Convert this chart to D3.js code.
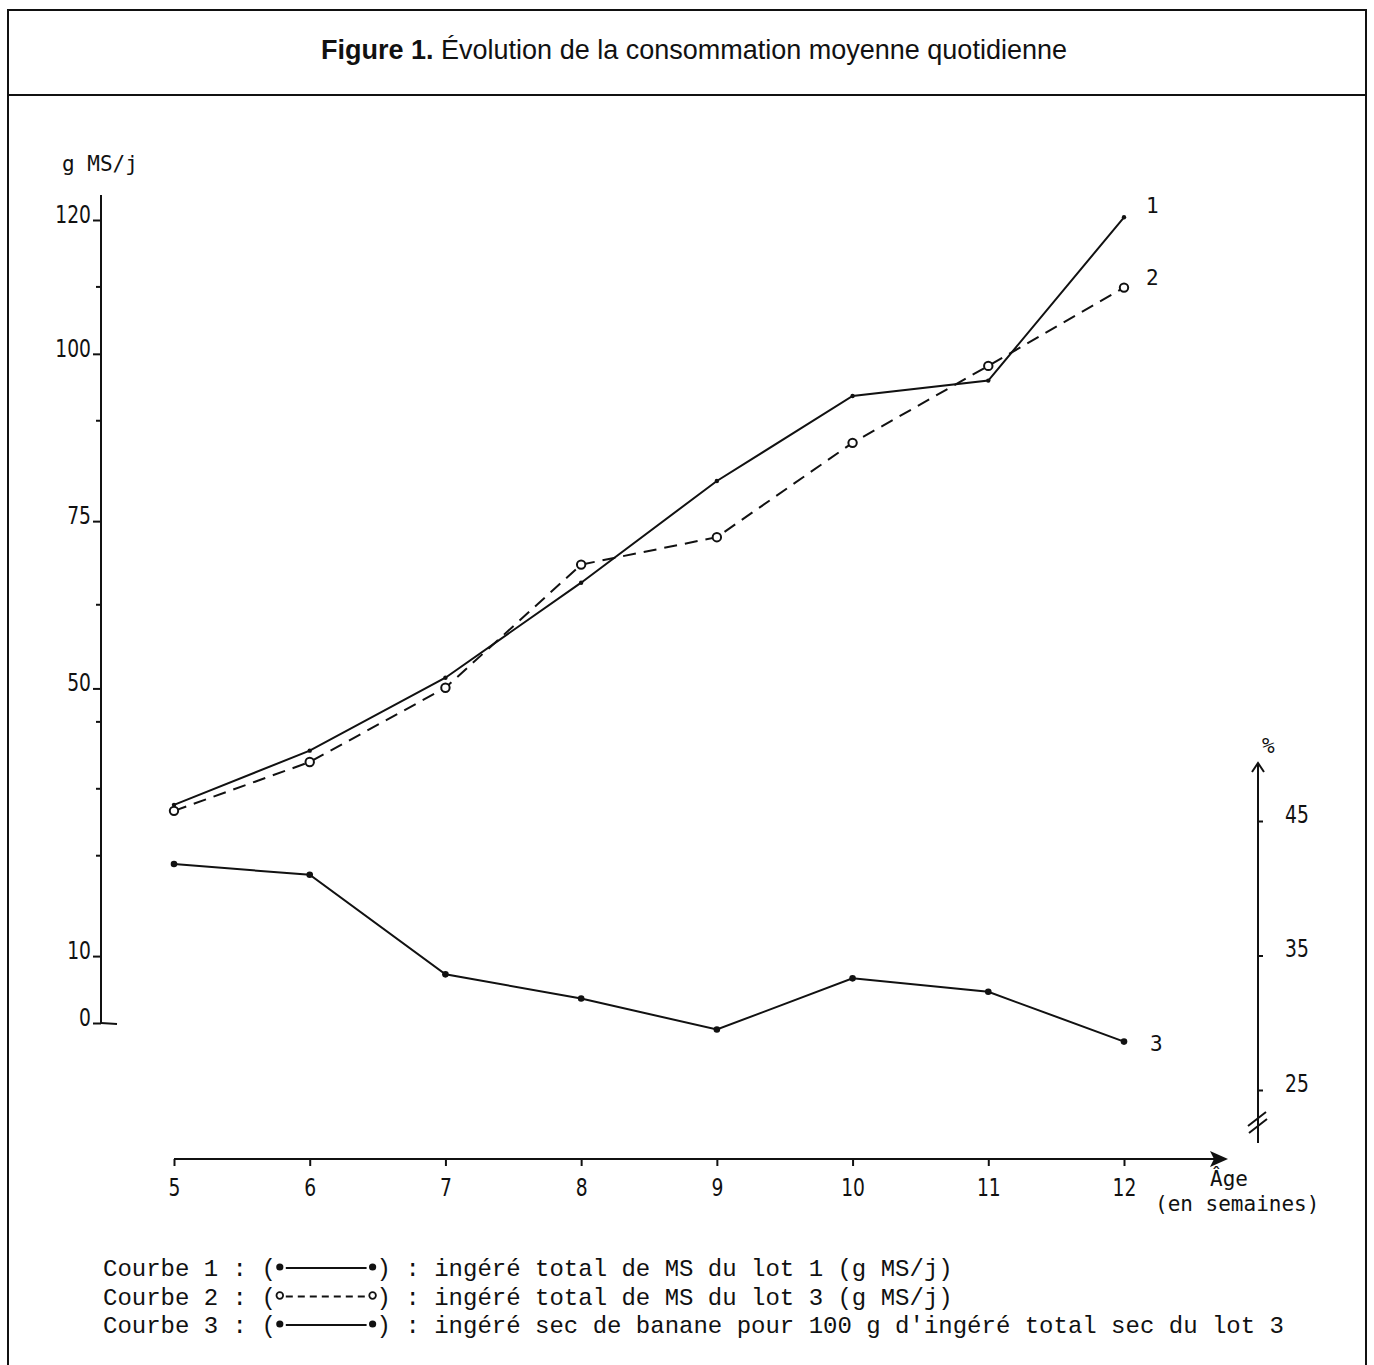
<!DOCTYPE html>
<html lang="fr">
<head>
<meta charset="UTF-8">
<title>Figure 1. Évolution de la consommation moyenne quotidienne</title>
<script src="https://d3js.org/d3.v7.min.js"></script>
<style>
    body { margin: 0; background: #fff; }
    svg { display: block; }
    .frame { fill: none; stroke: #111; stroke-width: 2px; }
    .title { font-family: "Liberation Sans", Arial, sans-serif; font-size: 27px; fill: #111; }
    .lbl { font-family: "DejaVu Sans", sans-serif; font-size: 24px; fill: #111;
           transform-box: fill-box; transform: scaleX(0.78); }
    .ax-left .lbl { transform-origin: 100% 50%; }
    .ax-right .lbl { transform-origin: 0% 50%; }
    .ax-bottom .lbl { transform-origin: 50% 50%; }
    .mono { font-family: "DejaVu Sans Mono", monospace; font-size: 21px; fill: #111; }
    .legend { font-family: "Liberation Mono", "Courier New", monospace; font-size: 24px; fill: #111; }
    .axis path, .axis line { stroke: #111; stroke-width: 2px; }
    .curve { fill: none; stroke: #111; stroke-width: 2px; }
</style>
</head>
<body>
<svg id="chart" width="1374" height="1365"></svg>
<script>
// data
const ages = [5, 6, 7, 8, 9, 10, 11, 12];
const courbe1 = [32.6, 40.7, 51.6, 65.8, 81.0, 93.7, 96.0, 120.4];   // g MS/j, lot 1
const courbe2 = [31.7, 39.0, 50.1, 68.5, 72.6, 86.7, 98.2, 109.9];   // g MS/j, lot 3
const courbe3 = [41.8, 41.0, 33.6, 31.8, 29.5, 33.3, 32.3, 28.6];    // %, banane / ingéré total

const leftTicks = [0, 10, 50, 75, 100, 120];
const leftMinor = [25, 35, 45, 62.5, 90, 110];
const rightTicks = [25, 35, 45];

const legendRows = [
    { name: "Courbe 1", mark: "dot", dash: null, text: "ingéré total de MS du lot 1 (g MS/j)" },
    { name: "Courbe 2", mark: "ring", dash: "7,5", text: "ingéré total de MS du lot 3 (g MS/j)" },
    { name: "Courbe 3", mark: "dot", dash: null, text: "ingéré sec de banane pour 100 g d'ingéré total sec du lot 3" }
];

const svg = d3.select("#chart");

// frame + title box
svg.append("rect").attr("class", "frame").attr("x", 8).attr("y", 10).attr("width", 1358).attr("height", 1370);
svg.append("line").attr("class", "frame").attr("x1", 8).attr("x2", 1366).attr("y1", 95).attr("y2", 95);

const title = svg.append("text").attr("class", "title").attr("x", 694).attr("y", 59).attr("text-anchor", "middle");
title.append("tspan").attr("font-weight", "bold").text("Figure 1.");
title.append("tspan").text(" Évolution de la consommation moyenne quotidienne");

// scales
const x = d3.scaleLinear().domain([5, 12]).range([174, 1124]);
const yL = d3.scaleLinear().domain([0, 120]).range([1023, 220]);
const yR = d3.scaleLinear().domain([25, 45]).range([1090, 821]);

// left axis
const axL = svg.append("g").attr("class", "axis ax-left").attr("transform", "translate(101,0)")
    .call(d3.axisLeft(yL).tickValues(leftTicks).tickSize(8).tickSizeOuter(0).tickPadding(2));
axL.select(".domain").remove();
axL.selectAll("text").attr("class", "lbl").attr("font-family", null).attr("font-size", null).attr("dy", "0.1em");
svg.append("line").attr("class", "curve").attr("x1", 101).attr("x2", 101).attr("y1", 195).attr("y2", yL(0));
svg.append("line").attr("class", "curve").attr("x1", 101).attr("x2", 117).attr("y1", yL(0)).attr("y2", yL(0) + 1);
svg.selectAll(".minorL").data(leftMinor).join("line")
    .attr("class", "curve").attr("x1", 96).attr("x2", 101)
    .attr("y1", d => yL(d)).attr("y2", d => yL(d));
svg.append("text").attr("class", "mono").attr("font-size", 22).attr("x", 62).attr("y", 171).text("g MS/j");

// right axis
const axR = svg.append("g").attr("class", "axis ax-right").attr("transform", "translate(1258,0)")
    .call(d3.axisRight(yR).tickValues(rightTicks).tickSize(5).tickSizeOuter(0).tickPadding(22));
axR.select(".domain").remove();
axR.selectAll("text").attr("class", "lbl").attr("font-family", null).attr("font-size", null).attr("dy", "0.05em");
svg.append("line").attr("class", "curve").attr("x1", 1258).attr("x2", 1258).attr("y1", 765).attr("y2", 1143);
svg.append("path").attr("class", "curve").attr("d", "M1252,772 L1258,763 L1264,772");
svg.append("path").attr("class", "curve").attr("d", "M1248,1126 L1266,1112 M1249,1133 L1267,1119");
svg.append("text").attr("class", "mono").attr("x", 1262).attr("y", 753).attr("font-size", 22).text("%");

// bottom axis
const axB = svg.append("g").attr("class", "axis ax-bottom").attr("transform", "translate(0,1159)")
    .call(d3.axisBottom(x).tickValues(ages).tickFormat(d3.format("d")).tickSize(7).tickSizeOuter(0).tickPadding(13));
axB.select(".domain").remove();
axB.selectAll("text").attr("class", "lbl").attr("font-family", null).attr("font-size", null);
svg.append("line").attr("class", "curve").attr("x1", x(5)).attr("x2", 1222).attr("y1", 1159).attr("y2", 1159);
svg.append("path").attr("d", "M1228,1159 L1210,1151 L1214,1159 L1210,1167 Z").attr("fill", "#111");
svg.append("text").attr("class", "mono").attr("x", 1210).attr("y", 1186).text("Âge");
svg.append("text").attr("class", "mono").attr("font-size", 19.5).attr("x", 1155).attr("y", 1211).text("(en semaines)");

// curves
const pts = vals => ages.map((a, i) => [a, vals[i]]);
const lineL = d3.line().x(d => x(d[0])).y(d => yL(d[1]));
const lineR = d3.line().x(d => x(d[0])).y(d => yR(d[1]));

svg.append("path").datum(pts(courbe1)).attr("class", "curve").attr("d", lineL);
svg.append("path").datum(pts(courbe2)).attr("class", "curve").attr("stroke-dasharray", "13,8").attr("d", lineL);
svg.append("path").datum(pts(courbe3)).attr("class", "curve").attr("d", lineR);

svg.selectAll(".p1").data(pts(courbe1)).join("circle")
    .attr("cx", d => x(d[0])).attr("cy", d => yL(d[1])).attr("r", 2.2).attr("fill", "#111");
svg.selectAll(".p2").data(pts(courbe2)).join("circle")
    .attr("cx", d => x(d[0])).attr("cy", d => yL(d[1])).attr("r", 4.2)
    .attr("fill", "#fff").attr("stroke", "#111").attr("stroke-width", 2);
svg.selectAll(".p3").data(pts(courbe3)).join("circle")
    .attr("cx", d => x(d[0])).attr("cy", d => yR(d[1])).attr("r", 3.3).attr("fill", "#111");

// curve numbers
svg.append("text").attr("class", "mono").attr("font-size", 23).attr("x", 1146).attr("y", yL(courbe1[7]) - 4).text("1");
svg.append("text").attr("class", "mono").attr("font-size", 23).attr("x", 1146).attr("y", yL(courbe2[7]) - 3).text("2");
svg.append("text").attr("class", "mono").attr("font-size", 23).attr("x", 1150).attr("y", yR(courbe3[7]) + 9).text("3");

// legend
const cw = 14.4, lx = 103;
legendRows.forEach((r, i) => {
    const by = 1276 + i * 28.5;
    svg.append("text").attr("class", "legend").attr("x", lx).attr("y", by)
        .text(r.name + " : (");
    const sx0 = lx + 12 * cw + 4, sx1 = lx + 19 * cw - 4, sy = by - 8;
    svg.append("line").attr("class", "curve").attr("x1", sx0 + 6).attr("x2", sx1 - 6)
        .attr("y1", sy).attr("y2", sy).attr("stroke-dasharray", r.dash);
    [sx0, sx1].forEach(cx => {
        const c = svg.append("circle").attr("cx", cx).attr("cy", sy - 1);
        if (r.mark === "ring") c.attr("r", 3.3).attr("fill", "#fff").attr("stroke", "#111").attr("stroke-width", 1.8);
        else c.attr("r", 3.6).attr("fill", "#111");
    });
    svg.append("text").attr("class", "legend").attr("x", lx + 19 * cw).attr("y", by)
        .text(") : " + r.text);
});
</script>
</body>
</html>
